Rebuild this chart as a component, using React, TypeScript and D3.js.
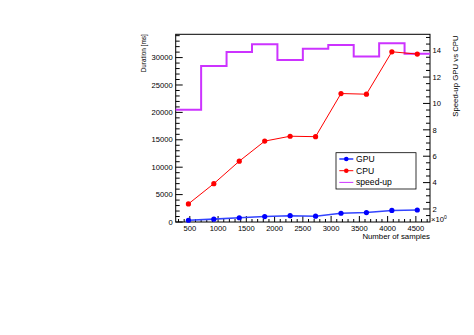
import React from "react";
import * as d3 from "d3";

const samples = [475, 925, 1375, 1825, 2275, 2725, 3175, 3625, 4075, 4525];
const cpuMs = [3300, 7000, 11100, 14760, 15650, 15570, 23440, 23320, 31060, 30640];
const gpuMs = [320, 520, 780, 990, 1150, 1060, 1600, 1720, 2110, 2190];
const speedup = [9.53, 12.84, 13.9, 14.48, 13.3, 14.15, 14.43, 13.55, 14.56, 13.77];
const binWidth = 450;
const xTicks = [500, 1000, 1500, 2000, 2500, 3000, 3500, 4000, 4500];
const yTicks = [0, 5000, 10000, 15000, 20000, 25000, 30000];
const rTicks = [2, 4, 6, 8, 10, 12, 14];
const legendItems = ["GPU", "CPU", "speed-up"];

const FONT = "'Liberation Sans', Arial, Helvetica, sans-serif";

export default function App() {
  const L = 175.7, R = 430, T = 34.3, B = 222;
  const x = d3.scaleLinear().domain([250, 4750]).range([L, R]);
  const y = d3.scaleLinear().domain([0, 34250]).range([B, T]);
  const yr = d3.scaleLinear().domain([1.014, 15.24]).range([B, T]);

  const line = d3.line<number>().x((_, i) => x(samples[i]));
  const cpuPath = d3.line<number>().x((_, i) => x(samples[i])).y((d) => y(d))(cpuMs) || "";
  const gpuPath = d3.line<number>().x((_, i) => x(samples[i])).y((d) => y(d))(gpuMs) || "";

  // speed-up step histogram
  const stepPts: [number, number][] = [];
  speedup.forEach((s, i) => {
    const x0 = samples[i] - binWidth / 2;
    const x1 = samples[i] + binWidth / 2;
    stepPts.push([x(x0), yr(s)]);
    stepPts.push([x(x1), yr(s)]);
  });
  const stepPath = d3.line()(stepPts) || "";

  const xMinor = d3.range(300, 4750, 100);
  const yMinor = d3.range(0, 34250, 1000);
  const rMinor = d3.range(1.5, 15.24, 0.5);

  const tickStyle = { stroke: "#000", strokeWidth: 1 };
  const fmt = (v: number) => String(v);

  return (
    <svg width={474} height={335} style={{ display: "block", position: "absolute", left: 0, top: 0 }}>
      <rect x={0} y={0} width={474} height={335} fill="#fff" />
      {/* frame */}
      <rect x={L} y={T} width={R - L} height={B - T} fill="none" stroke="#000" strokeWidth={1} />

      {/* x ticks */}
      {xMinor.map((v) => (
        <line key={"xm" + v} x1={x(v)} x2={x(v)} y1={B} y2={v % 500 === 0 ? B - 6 : B - 3} {...tickStyle} />
      ))}
      {xTicks.map((v) => (
        <text key={"xt" + v} x={x(v)} y={231} fontFamily={FONT} fontSize={7.6} textAnchor="middle" fill="#000">
          {fmt(v)}
        </text>
      ))}
      <text x={430} y={238.5} fontFamily={FONT} fontSize={7.8} textAnchor="end" fill="#000">
        Number of samples
      </text>

      {/* left y ticks */}
      {yMinor.map((v) => (
        <line key={"ym" + v} x1={L} x2={v % 5000 === 0 ? L + 7 : L + 4} y1={y(v)} y2={y(v)} {...tickStyle} />
      ))}
      {yTicks.map((v) => (
        <text key={"yt" + v} x={L - 3} y={y(v) + 2.7} fontFamily={FONT} fontSize={7.6} textAnchor="end" fill="#000">
          {fmt(v)}
        </text>
      ))}
      <text
        transform={`translate(145.5,${T}) rotate(-90)`}
        fontFamily={FONT}
        fontSize={6.4}
        textAnchor="end"
        fill="#000"
      >
        Duration [ms]
      </text>

      {/* right y ticks */}
      {rMinor.map((v) => {
        const major = Math.abs(v - Math.round(v)) < 1e-6 && Math.round(v) % 2 === 0;
        return (
          <line key={"rm" + v} x1={R} x2={major ? R - 7 : R - 4} y1={yr(v)} y2={yr(v)} {...tickStyle} />
        );
      })}
      {rTicks.map((v) => (
        <text key={"rt" + v} x={R + 2.5} y={yr(v) + 2.7} fontFamily={FONT} fontSize={7.6} textAnchor="start" fill="#000">
          {v}
        </text>
      ))}
      <text x={R + 1} y={B} fontFamily={FONT} fontSize={7.6} textAnchor="start" fill="#000">
        ×10
        <tspan dy={-3} fontSize={5}>0</tspan>
      </text>
      <text
        transform={`translate(457.5,${T + 1}) rotate(-90)`}
        fontFamily={FONT}
        fontSize={7.8}
        textAnchor="end"
        fill="#000"
      >
        Speed-up GPU vs CPU
      </text>

      {/* speed-up histogram */}
      <path d={stepPath} fill="none" stroke="#cc33ff" strokeWidth={2} />

      {/* CPU */}
      <path d={cpuPath} fill="none" stroke="#ff0000" strokeWidth={1} />
      {cpuMs.map((v, i) => (
        <circle key={"c" + i} cx={x(samples[i])} cy={y(v)} r={2.6} fill="#ff0000" />
      ))}

      {/* GPU */}
      <path d={gpuPath} fill="none" stroke="#3344ff" strokeWidth={1.6} />
      {gpuMs.map((v, i) => (
        <circle key={"g" + i} cx={x(samples[i])} cy={y(v)} r={2.6} fill="#0000ff" />
      ))}

      {/* legend */}
      <rect x={336} y={152.7} width={80} height={36.3} fill="#fff" stroke="#000" strokeWidth={0.8} />
      {legendItems.map((name, i) => {
        const ly = 159 + i * 11.7;
        const col = i === 0 ? "#0000ff" : i === 1 ? "#ff0000" : "#cc33ff";
        return (
          <g key={name}>
            <line x1={339.3} x2={353.3} y1={ly} y2={ly} stroke={i === 0 ? "#3344ff" : col} strokeWidth={i === 0 ? 1.6 : 1} />
            {i < 2 && <circle cx={346.3} cy={ly} r={2.3} fill={col} />}
            <text x={356} y={ly + 3} fontFamily={FONT} fontSize={8.6} fill="#000">
              {name}
            </text>
          </g>
        );
      })}
    </svg>
  );
}
